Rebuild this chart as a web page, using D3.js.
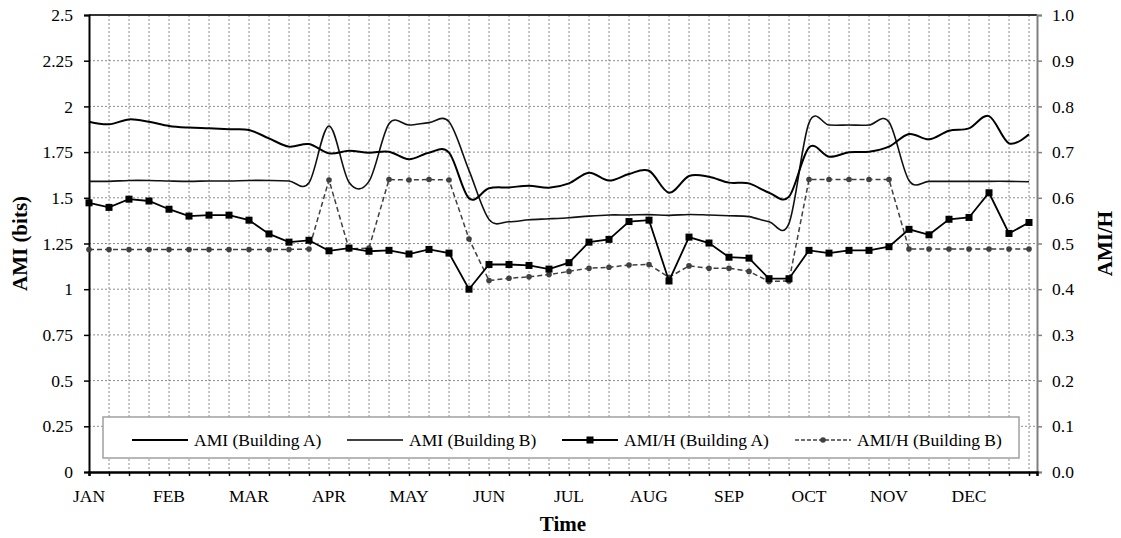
<!DOCTYPE html>
<html>
<head>
<meta charset="utf-8">
<script src="https://cdn.jsdelivr.net/npm/d3@7"></script>
<style>
    body { margin: 0; background: #fff; }
    text { font-family: "Liberation Serif", "Times New Roman", serif; fill: #000; }
</style>
</head>
<body>
<script>

// Month labels, one every 4 weekly points
const months = ["JAN", "FEB", "MAR", "APR", "MAY", "JUN", "JUL", "AUG", "SEP", "OCT", "NOV", "DEC"];

// AMI (bits), left axis, one value per week
const amiBuildingA = [1.916, 1.902, 1.929, 1.916, 1.893, 1.884, 1.880, 1.875, 1.871, 1.825, 1.780, 1.794,
    1.743, 1.757, 1.747, 1.752, 1.711, 1.747, 1.747, 1.497, 1.552, 1.557, 1.566, 1.555,
    1.579, 1.637, 1.594, 1.630, 1.648, 1.528, 1.619, 1.615, 1.583, 1.579, 1.528, 1.506,
    1.775, 1.725, 1.749, 1.752, 1.780, 1.849, 1.820, 1.867, 1.880, 1.947, 1.798, 1.847];

const amiBuildingB = [1.590, 1.590, 1.595, 1.595, 1.592, 1.590, 1.592, 1.592, 1.595, 1.595, 1.592, 1.582,
    1.893, 1.585, 1.590, 1.905, 1.898, 1.911, 1.916, 1.650, 1.382, 1.369, 1.380, 1.385,
    1.391, 1.400, 1.406, 1.406, 1.408, 1.404, 1.409, 1.406, 1.402, 1.397, 1.369, 1.360,
    1.910, 1.898, 1.898, 1.898, 1.915, 1.595, 1.590, 1.590, 1.590, 1.590, 1.590, 1.588];

// AMI/H, right axis
const amihBuildingA = [0.589, 0.579, 0.597, 0.593, 0.575, 0.560, 0.562, 0.562, 0.551, 0.521, 0.503, 0.507,
    0.484, 0.490, 0.483, 0.485, 0.477, 0.487, 0.479, 0.400, 0.454, 0.454, 0.452, 0.444,
    0.458, 0.503, 0.509, 0.548, 0.551, 0.418, 0.514, 0.501, 0.470, 0.468, 0.423, 0.423,
    0.485, 0.479, 0.485, 0.485, 0.493, 0.531, 0.519, 0.553, 0.557, 0.611, 0.522, 0.546];

const amihBuildingB = [0.487, 0.487, 0.487, 0.487, 0.487, 0.487, 0.487, 0.487, 0.487, 0.487, 0.487, 0.488,
    0.639, 0.488, 0.490, 0.640, 0.639, 0.640, 0.639, 0.510, 0.419, 0.424, 0.427, 0.432,
    0.439, 0.446, 0.448, 0.453, 0.454, 0.426, 0.451, 0.446, 0.446, 0.439, 0.417, 0.418,
    0.640, 0.640, 0.640, 0.640, 0.640, 0.488, 0.488, 0.488, 0.488, 0.488, 0.488, 0.488];

const leftTicks = [0, 0.25, 0.5, 0.75, 1, 1.25, 1.5, 1.75, 2, 2.25, 2.5];
const rightTicks = [0, 0.1, 0.2, 0.3, 0.4, 0.5, 0.6, 0.7, 0.8, 0.9, 1.0];
const legendNames = ["AMI (Building A)", "AMI (Building B)", "AMI/H (Building A)", "AMI/H (Building B)"];

const width = 1121, height = 538;
const margin = {top: 15, right: 84, bottom: 66, left: 89};
const plotW = width - margin.left - margin.right;
const plotH = height - margin.top - margin.bottom;

const weeks = d3.range(amiBuildingA.length);

const x = d3.scaleLinear().domain([0, weeks.length - 1 + 0.4]).range([0, plotW]);
const yLeft = d3.scaleLinear().domain([0, 2.5]).range([plotH, 0]);
const yRight = d3.scaleLinear().domain([0, 1.0]).range([plotH, 0]);

const svg = d3.select("body").append("svg")
    .attr("width", width)
    .attr("height", height);

const g = svg.append("g")
    .attr("transform", "translate(" + margin.left + "," + margin.top + ")");

// dotted grid
g.append("g").selectAll("line")
    .data(leftTicks.slice(1))
    .join("line")
    .attr("x1", 0).attr("x2", plotW)
    .attr("y1", d => yLeft(d)).attr("y2", d => yLeft(d))
    .attr("stroke", "#8c8c8c").attr("stroke-width", 1)
    .attr("stroke-dasharray", "2,2");

g.append("g").selectAll("line")
    .data(weeks.slice(1))
    .join("line")
    .attr("x1", d => x(d)).attr("x2", d => x(d))
    .attr("y1", 0).attr("y2", plotH)
    .attr("stroke", "#8c8c8c").attr("stroke-width", 1)
    .attr("stroke-dasharray", "2,2");

// top border
g.append("line")
    .attr("x1", 0).attr("x2", plotW)
    .attr("y1", 0).attr("y2", 0)
    .attr("stroke", "#333").attr("stroke-width", 2);

// left axis
const leftAxis = g.append("g")
    .call(d3.axisLeft(yLeft).tickValues(leftTicks).tickSize(5).tickPadding(11).tickFormat(d => String(d)));
leftAxis.select(".domain").attr("stroke", "#000").attr("stroke-width", 2);
leftAxis.selectAll(".tick line").attr("stroke", "#000").attr("stroke-width", 1.5);
leftAxis.selectAll("text").attr("font-size", 17.5).attr("font-family", "Liberation Serif");

// right axis
const rightAxis = g.append("g")
    .attr("transform", "translate(" + plotW + ",0)")
    .call(d3.axisRight(yRight).tickValues(rightTicks).tickSize(5).tickPadding(10).tickFormat(d3.format(".1f")));
rightAxis.select(".domain").attr("stroke", "#808080").attr("stroke-width", 2);
rightAxis.selectAll(".tick line").attr("stroke", "#808080").attr("stroke-width", 1.5);
rightAxis.selectAll("text").attr("font-size", 17.5).attr("font-family", "Liberation Serif");

// bottom axis
const bottomAxis = g.append("g")
    .attr("transform", "translate(0," + plotH + ")")
    .call(d3.axisBottom(x).tickValues(weeks).tickSize(4).tickFormat(""));
bottomAxis.select(".domain").attr("stroke", "#000").attr("stroke-width", 2.5);
bottomAxis.selectAll(".tick line").attr("stroke", "#000").attr("stroke-width", 1.5);

g.append("g").selectAll("text")
    .data(months)
    .join("text")
    .attr("x", (d, i) => x(i * 4))
    .attr("y", plotH + 30)
    .attr("text-anchor", "middle")
    .attr("font-size", 17.5)
    .text(d => d);

// axis titles
svg.append("text")
    .attr("transform", "translate(" + 27 + "," + (margin.top + plotH / 2) + ") rotate(-90)")
    .attr("text-anchor", "middle")
    .attr("font-size", 21).attr("font-weight", "bold")
    .text("AMI (bits)");

svg.append("text")
    .attr("transform", "translate(" + 1112 + "," + (margin.top + plotH / 2) + ") rotate(-90)")
    .attr("text-anchor", "middle")
    .attr("font-size", 21).attr("font-weight", "bold")
    .text("AMI/H");

svg.append("text")
    .attr("x", margin.left + plotW / 2)
    .attr("y", 531)
    .attr("text-anchor", "middle")
    .attr("font-size", 21).attr("font-weight", "bold")
    .text("Time");

// series
const smoothLeft = d3.line()
    .x((d, i) => x(i))
    .y(d => yLeft(d))
    .curve(d3.curveCardinal.tension(0));

const straightRight = d3.line()
    .x((d, i) => x(i))
    .y(d => yRight(d));

// legend box goes under the data lines
g.append("rect")
    .attr("x", 14).attr("y", 402)
    .attr("width", 916).attr("height", 41)
    .attr("fill", "#fff")
    .attr("stroke", "#a0a0a0").attr("stroke-width", 1.5);

g.append("path")
    .attr("d", smoothLeft(amiBuildingB))
    .attr("fill", "none").attr("stroke", "#111").attr("stroke-width", 1.6);

g.append("path")
    .attr("d", smoothLeft(amiBuildingA))
    .attr("fill", "none").attr("stroke", "#000").attr("stroke-width", 2);

g.append("path")
    .attr("d", straightRight(amihBuildingB))
    .attr("fill", "none").attr("stroke", "#404040").attr("stroke-width", 1.5)
    .attr("stroke-dasharray", "5,3");

g.append("g").selectAll("circle")
    .data(amihBuildingB)
    .join("circle")
    .attr("cx", (d, i) => x(i))
    .attr("cy", d => yRight(d))
    .attr("r", 2.8)
    .attr("fill", "#404040");

g.append("path")
    .attr("d", straightRight(amihBuildingA))
    .attr("fill", "none").attr("stroke", "#000").attr("stroke-width", 1.8);

g.append("g").selectAll("rect")
    .data(amihBuildingA)
    .join("rect")
    .attr("x", (d, i) => x(i) - 3.5)
    .attr("y", d => yRight(d) - 3.5)
    .attr("width", 7).attr("height", 7)
    .attr("fill", "#000");

// legend entries
const legendStarts = [132, 347, 562, 795];
const legendY = 440;
const legend = svg.append("g");

legendNames.forEach((name, i) => {
    const x0 = legendStarts[i];
    const item = legend.append("g");
    const line = item.append("line")
        .attr("x1", x0).attr("x2", x0 + 56)
        .attr("y1", legendY).attr("y2", legendY)
        .attr("stroke", i === 3 ? "#404040" : "#000")
        .attr("stroke-width", i === 1 ? 1.6 : 2);
    if (i === 3) {
        line.attr("stroke-dasharray", "4,2").attr("stroke-width", 1.5);
        item.append("circle").attr("cx", x0 + 28).attr("cy", legendY).attr("r", 2.8).attr("fill", "#404040");
    }
    if (i === 2) {
        item.append("rect").attr("x", x0 + 24.5).attr("y", legendY - 3.5)
            .attr("width", 7).attr("height", 7).attr("fill", "#000");
    }
    item.append("text")
        .attr("x", x0 + 62)
        .attr("y", legendY + 6)
        .attr("font-size", 17.5)
        .text(name);
});

</script>
</body>
</html>
